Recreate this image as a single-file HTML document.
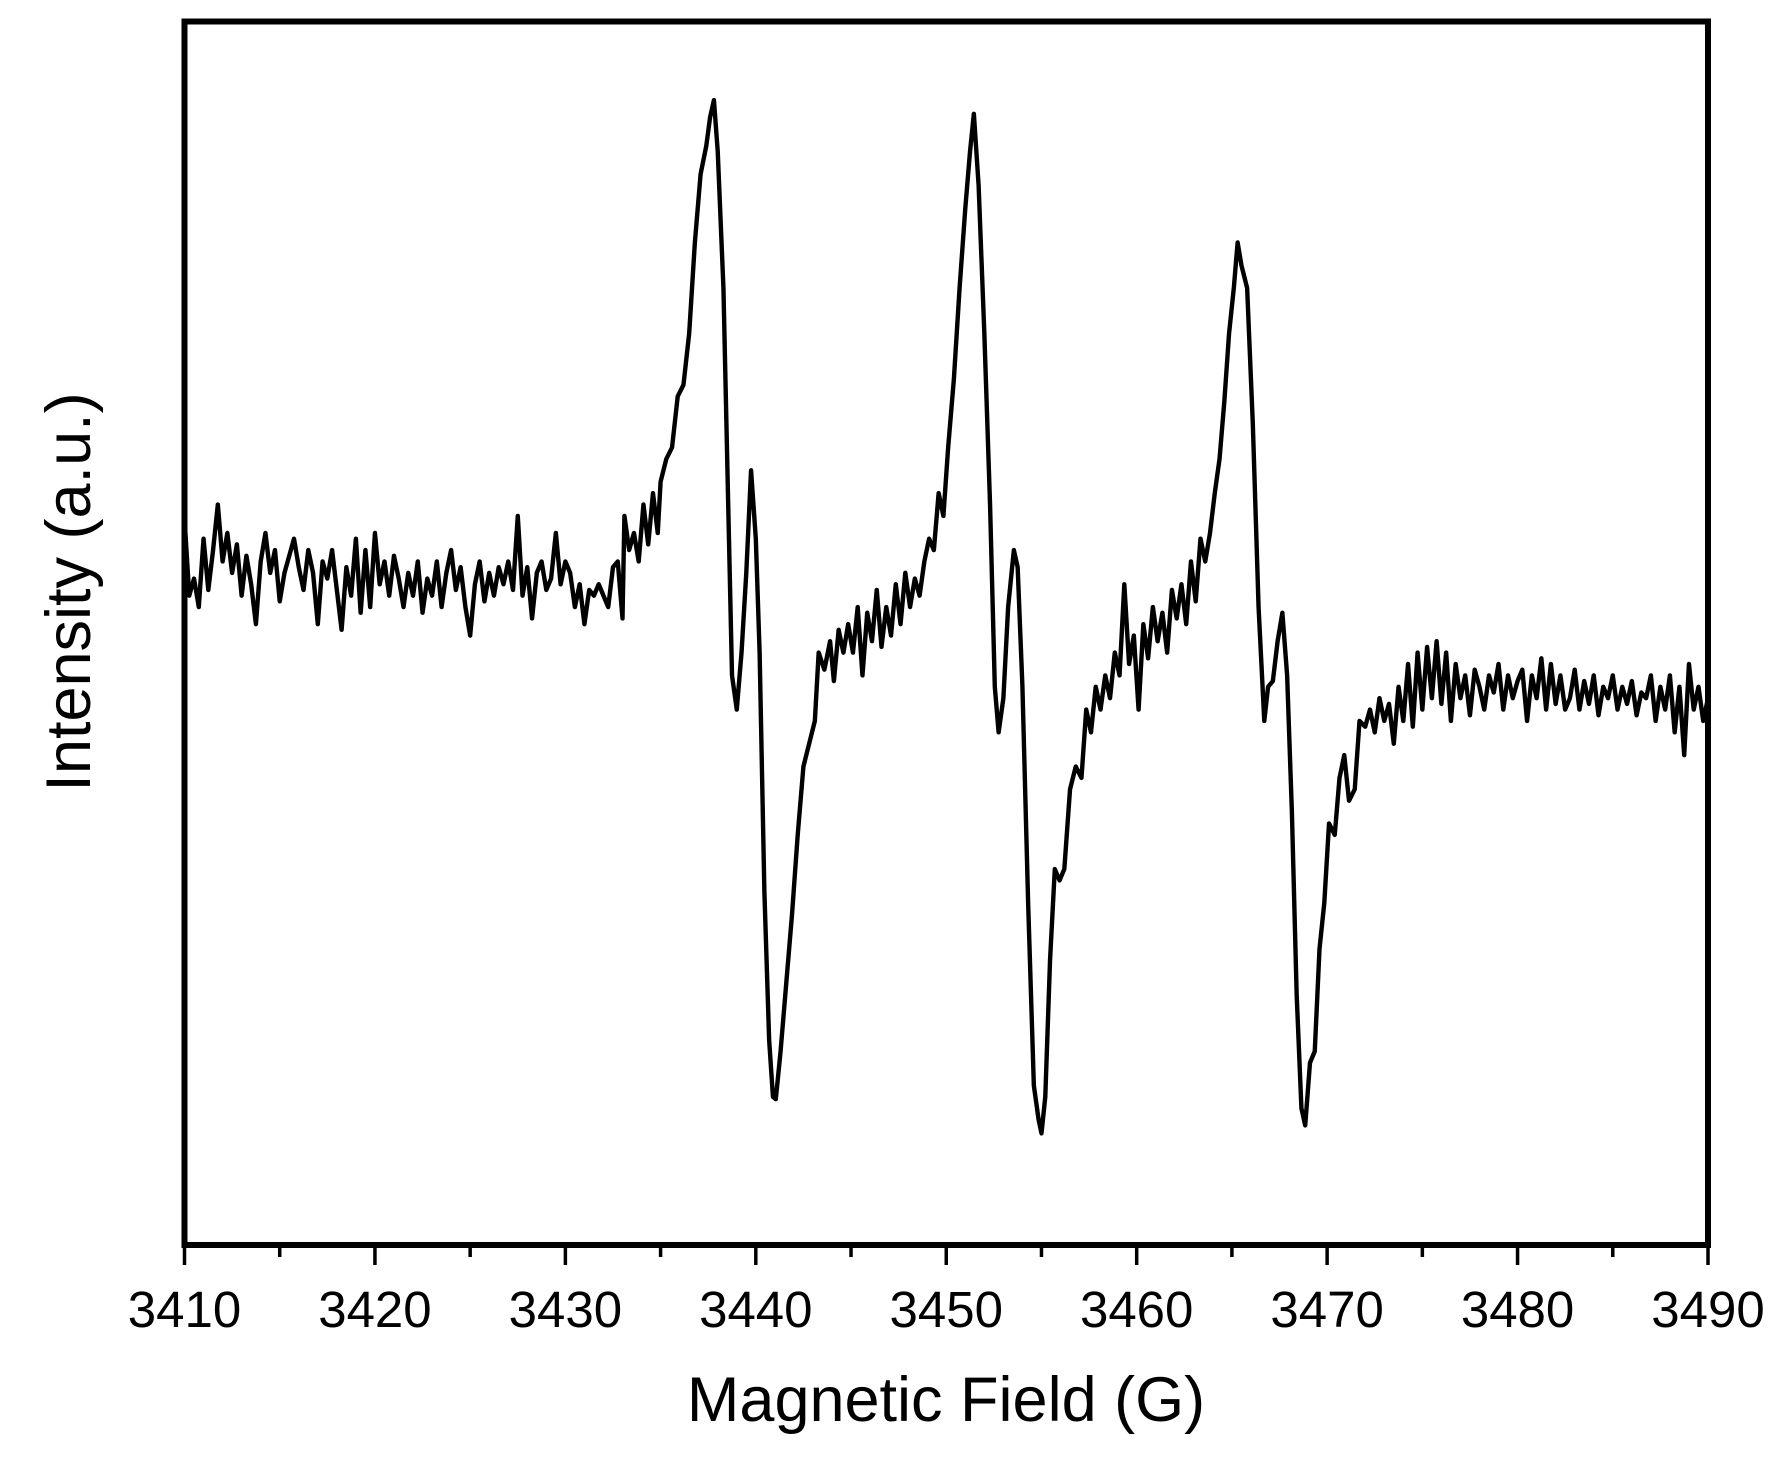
<!DOCTYPE html>
<html><head><meta charset="utf-8"><style>
html,body{margin:0;padding:0;background:#fff;}
svg{display:block;font-family:"Liberation Sans",Arial,sans-serif;}
</style></head><body>
<svg id="chart" width="1782" height="1462" viewBox="0 0 1782 1462" xmlns="http://www.w3.org/2000/svg">
<rect width="1782" height="1462" fill="#fff"/>
<g id="ticks"></g>
<path id="trace" fill="none" stroke="#000" stroke-width="4.4" stroke-linejoin="round"/>
<rect x="184.5" y="21.5" width="1523.5" height="1223.5" fill="none" stroke="#000" stroke-width="6"/>
<text x="946" y="1421" font-size="63" text-anchor="middle">Magnetic Field (G)</text>
<text x="0" y="0" font-size="63" text-anchor="middle" transform="translate(90,592) rotate(-90)">Intensity (a.u.)</text>
</svg>
<script>
const xTicks = [3410,3420,3430,3440,3450,3460,3470,3480,3490];
const xMinorTicks = [3415,3425,3435,3445,3455,3465,3475,3485];
const field = [3410,3410.25,3410.5,3410.75,3411,3411.25,3411.5,3411.75,3412,3412.25,3412.5,3412.75,3413,3413.25,3413.5,3413.75,3414,3414.25,3414.5,3414.75,3415,3415.25,3415.5,3415.75,3416,3416.25,3416.5,3416.75,3417,3417.25,3417.5,3417.75,3418,3418.25,3418.5,3418.75,3419,3419.25,3419.5,3419.75,3420,3420.25,3420.5,3420.75,3421,3421.25,3421.5,3421.75,3422,3422.25,3422.5,3422.75,3423,3423.25,3423.5,3423.75,3424,3424.25,3424.5,3424.75,3425,3425.25,3425.5,3425.75,3426,3426.25,3426.5,3426.75,3427,3427.25,3427.5,3427.75,3428,3428.25,3428.5,3428.75,3429,3429.25,3429.5,3429.75,3430,3430.25,3430.5,3430.75,3431,3431.25,3431.5,3431.75,3432,3432.25,3432.5,3432.75,3433,3433.1,3433.35,3433.6,3433.85,3434.1,3434.35,3434.6,3434.85,3435,3435.3,3435.6,3435.9,3436.2,3436.5,3436.8,3437.1,3437.4,3437.6,3437.8,3438.0,3438.3,3438.55,3438.75,3439.0,3439.25,3439.5,3439.75,3440.0,3440.2,3440.45,3440.7,3440.9,3441.05,3441.3,3441.6,3441.9,3442.2,3442.5,3442.8,3443.1,3443.3,3443.6,3443.9,3444.1,3444.35,3444.6,3444.85,3445.1,3445.35,3445.6,3445.85,3446.1,3446.35,3446.6,3446.85,3447.1,3447.35,3447.6,3447.85,3448.1,3448.35,3448.6,3448.85,3449.1,3449.35,3449.6,3449.85,3450.1,3450.4,3450.7,3451.0,3451.25,3451.45,3451.7,3452.0,3452.3,3452.55,3452.75,3453.0,3453.25,3453.55,3453.75,3454.0,3454.3,3454.6,3454.85,3455.0,3455.2,3455.45,3455.7,3455.95,3456.2,3456.5,3456.8,3457.1,3457.35,3457.6,3457.85,3458.1,3458.35,3458.6,3458.85,3459.1,3459.35,3459.6,3459.85,3460.1,3460.35,3460.6,3460.85,3461.1,3461.35,3461.6,3461.85,3462.1,3462.35,3462.6,3462.85,3463.1,3463.35,3463.6,3463.85,3464.1,3464.35,3464.6,3464.85,3465.1,3465.3,3465.5,3465.8,3466.1,3466.4,3466.7,3466.9,3467.15,3467.4,3467.65,3467.9,3468.15,3468.4,3468.65,3468.85,3469.1,3469.35,3469.6,3469.85,3470.1,3470.4,3470.65,3470.9,3471.15,3471.45,3471.7,3472.0,3472.25,3472.5,3472.75,3473.0,3473.25,3473.5,3473.75,3474.0,3474.25,3474.5,3474.75,3475.0,3475.25,3475.5,3475.75,3476.0,3476.25,3476.5,3476.75,3477.0,3477.25,3477.5,3477.75,3478.0,3478.25,3478.5,3478.75,3479.0,3479.25,3479.5,3479.75,3480.0,3480.25,3480.5,3480.75,3481.0,3481.25,3481.5,3481.75,3482.0,3482.25,3482.5,3482.75,3483.0,3483.25,3483.5,3483.75,3484.0,3484.25,3484.5,3484.75,3485.0,3485.25,3485.5,3485.75,3486.0,3486.25,3486.5,3486.75,3487.0,3487.25,3487.5,3487.75,3488.0,3488.25,3488.5,3488.75,3489.0,3489.25,3489.5,3489.75,3490];
const intensity = [638,570,585,560,620,575,610,650,600,625,590,615,570,605,580,545,600,625,590,610,565,590,605,620,595,575,610,590,545,600,585,610,575,540,595,570,620,555,610,560,625,580,600,570,605,585,560,590,570,600,555,585,570,600,560,590,610,575,595,560,535,580,600,565,590,570,595,580,600,575,640,570,595,550,590,600,575,585,625,580,600,590,560,580,545,575,570,580,570,560,595,600,550,640,610,625,600,650,615,660,625,670,690,700,745,755,800,880,940,965,990,1005,960,840,650,500,470,520,590,680,620,520,310,180,130,128,170,230,290,360,420,440,460,520,505,530,495,540,520,545,520,560,500,555,530,575,525,560,535,580,545,590,560,585,570,600,620,610,660,640,700,760,840,910,960,993,930,800,650,490,450,480,560,610,595,490,300,140,110,98,130,250,330,320,330,400,420,410,470,450,490,470,500,480,520,500,580,510,535,470,545,515,560,530,555,520,575,550,580,545,600,565,620,600,625,660,690,740,800,840,880,860,840,720,560,460,490,495,530,555,500,380,220,120,105,160,170,260,300,370,360,410,430,390,400,460,455,470,450,480,460,475,440,490,460,510,455,520,470,525,480,530,475,520,460,510,480,500,465,505,490,470,500,485,510,470,500,480,495,505,460,500,480,515,470,510,475,500,470,480,505,470,495,475,500,465,490,480,500,470,490,475,495,465,485,480,500,460,490,470,500,450,490,430,510,470,490,460,480];

const X0=184.5, X1=1708, Y0=1245, Y1=21.5;
const xMin=3410, xMax=3490, yMin=0, yMax=1074;
function sx(v){return X0+(v-xMin)/(xMax-xMin)*(X1-X0);}
function sy(v){return Y0-(v-yMin)/(yMax-yMin)*(Y0-Y1);}

let d='';
for(let i=0;i<field.length;i++){d+=(i?'L':'M')+sx(field[i]).toFixed(2)+' '+sy(intensity[i]).toFixed(2);}
document.getElementById('trace').setAttribute('d',d);

const NS='http://www.w3.org/2000/svg';
const g=document.getElementById('ticks');
xTicks.forEach(t=>{
  const l=document.createElementNS(NS,'line');
  
  
  l.setAttribute('x1',sx(t));l.setAttribute('x2',sx(t));
  l.setAttribute('y1',Y0);l.setAttribute('y2',Y0+20);
  l.setAttribute('stroke','#000');l.setAttribute('stroke-width','3.5');
  g.appendChild(l);
  const tx=document.createElementNS(NS,'text');
  
  
  tx.setAttribute('x',sx(t));tx.setAttribute('y',1327);
  tx.setAttribute('font-size','51');tx.setAttribute('text-anchor','middle');
  tx.textContent=t;
  g.appendChild(tx);
});
xMinorTicks.forEach(t=>{
  const l=document.createElementNS(NS,'line');
  
  
  l.setAttribute('x1',sx(t));l.setAttribute('x2',sx(t));
  l.setAttribute('y1',Y0);l.setAttribute('y2',Y0+12);
  l.setAttribute('stroke','#000');l.setAttribute('stroke-width','3.5');
  g.appendChild(l);
});
</script>
</body></html>
